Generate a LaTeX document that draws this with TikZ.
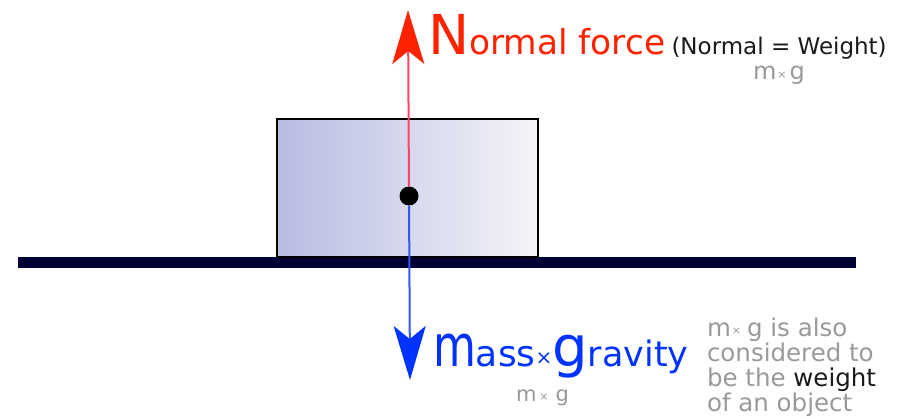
\documentclass[tikz,border=0pt]{standalone}
\usepackage{fontspec}
\setmainfont{DejaVu Sans}
\usetikzlibrary{arrows.meta}
\definecolor{redhead}{HTML}{FF2200}
\definecolor{redline}{HTML}{FF4466}
\definecolor{bluehead}{HTML}{0033FF}
\definecolor{blueline}{HTML}{3355FF}
\definecolor{navy}{HTML}{000033}
\definecolor{grad1}{HTML}{B8BCE2}
\definecolor{grad2}{HTML}{F4F4F8}
\definecolor{greytxt}{HTML}{999999}
\definecolor{darktxt}{HTML}{1A1A1A}
\newcommand{\fs}[1]{\fontsize{#1}{#1}\selectfont}
\newcommand{\smalltimes}[1]{\raisebox{#1}{\fs{11}×}}
\tikzset{
  lbl/.style={inner sep=0pt, outer sep=0pt, anchor=base west},
  forcearrow/.style={line width=2pt},
}
\begin{document}
\begin{tikzpicture}[x=1pt, y=-1pt]
\useasboundingbox (0,0) rectangle (900,419);
% ground
\fill[navy] (18,257) rectangle (856,268);
% block
\shade[left color=grad1, right color=grad2] (277,119) rectangle (538,257);
\draw[line width=1.2pt, black] (277,119) rectangle (538,257);
% centre of mass
\node[circle, fill=black, inner sep=0pt, minimum size=19pt] (cm) at (409,196) {};
\coordinate (uptip) at (408,10);
\coordinate (downtip) at (410,380);
\draw[forcearrow, draw=redline, arrows={-{Stealth[length=54pt, width=32pt, inset=13pt, color=redhead]}}] (cm) -- (uptip);
\draw[forcearrow, draw=blueline, arrows={-{Stealth[length=54pt, width=32pt, inset=13pt, color=bluehead]}}] (cm) -- (downtip);
% labels
\node[lbl, text=redhead] (nf) at (428,55) {{\fs{55}N}{\fs{34.4}ormal force}};
\node[lbl, text=darktxt] (nw) at (671.5,55) {\fs{23}(Normal = Weight)};
\node[lbl, text=greytxt] (mg1) at (753,80) {\fs{24}m\hspace{1pt}\smalltimes{1.5pt}\hspace{3pt}g};
\node[lbl, text=bluehead] (mg) at (433,367) {\scalebox{0.76}[1]{\fs{58}m}{\fs{36}ass}\raisebox{2pt}{\fs{20}×}{\fs{56}g}{\fs{35}ravity}};
\node[lbl, text=greytxt] (mg2) at (516,402) {\fs{21}m\hspace{3pt}\smalltimes{1pt}\hspace{7pt}g};
\node[lbl, text=greytxt, align=left, font=\fontsize{24.5}{25}\selectfont] (note) at (707,412)
  {m\hspace{1pt}\smalltimes{2pt}\hspace{6pt}g is also\\considered to\\be the {\color{darktxt}weight}\\of an object};
\end{tikzpicture}
\end{document}
